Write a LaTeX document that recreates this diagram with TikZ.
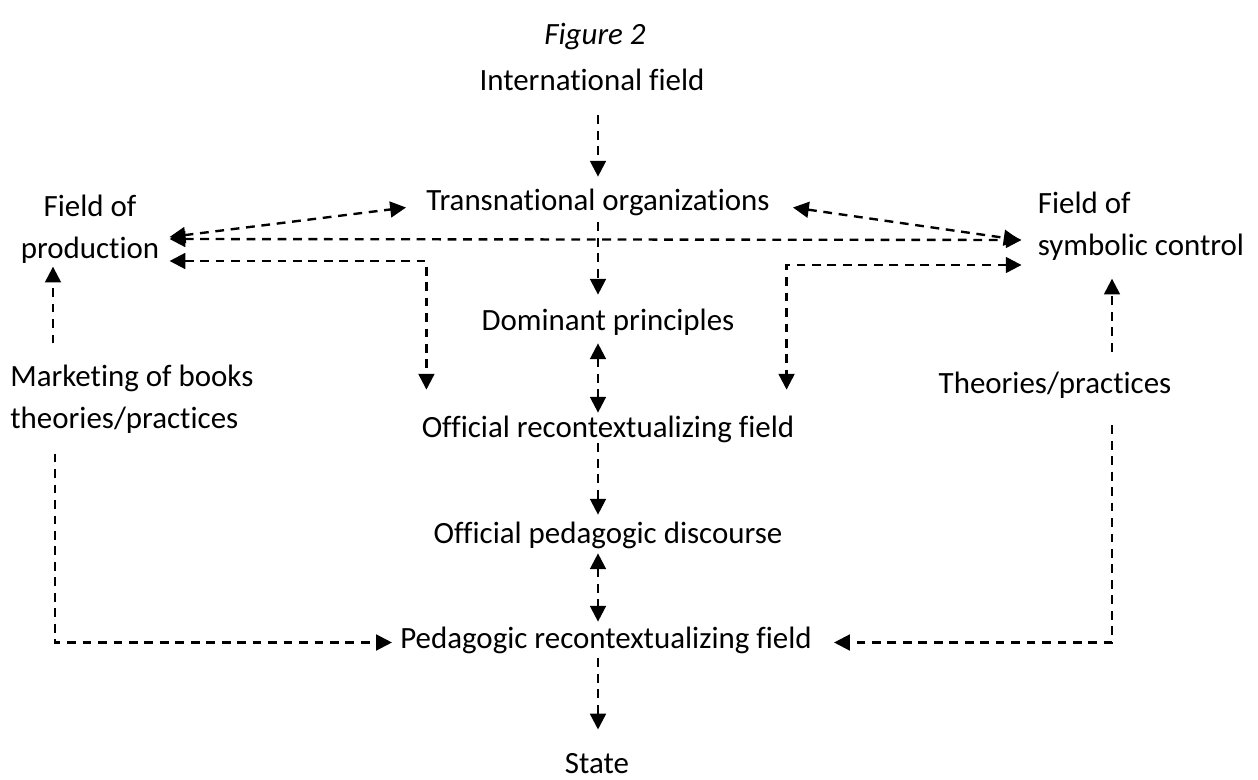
\documentclass[tikz,border=0pt]{standalone}
\usepackage{fontspec}
\setmainfont{Carlito}[Ligatures=NoCommon]
\usetikzlibrary{arrows.meta,calc}
\tikzset{
  every node/.style={inner sep=0pt, font=\fontsize{17.6}{24}\selectfont},
  lbl/.style={text height=13.6pt, text depth=2.9pt},
  flow/.style={dash pattern=on 5pt off 3.8pt, line width=1.35pt,
    -{Triangle[length=9pt,width=9pt]}},
  twoway/.style={flow, {Triangle[length=9pt,width=9pt]}-{Triangle[length=9pt,width=9pt]}},
}

\begin{document}
\begin{tikzpicture}[x=0.02cm,y=-0.02cm]
  \useasboundingbox (0,0) rectangle (1258,780);

  % labels
  \node[lbl] (fig) at (595,35) {\itshape Figure 2};
  \node[lbl] (intl) at (592,81.5) {International field};
  \node[lbl] (trans) at (598,201.5) {Transnational organizations};
  \node[align=center] (prod) at (90,229) {Field of\\production};
  \node[align=left] (symb) at (1141,226) {Field of\\symbolic control};
  \node[lbl] (dom) at (608,321.5) {Dominant principles};
  \node[align=left, anchor=west] (mark) at (10,399) {Marketing of books\\theories/practices};
  \node[lbl] (theo) at (1055,384.5) {Theories/practices};
  \node[lbl] (ofrec) at (608,428.5) {Official recontextualizing field};
  \node[lbl] (opd) at (608,534.5) {Official pedagogic discourse};
  \node[lbl] (pedrec) at (606,639.5) {Pedagogic recontextualizing field};
  \node (state) at (597,764) {State};

  % centre column
  \draw[flow] ($(trans.north |- intl.south)+(0,19)$) -- ($(trans.north)+(0,-10)$);
  \draw[flow] ($(trans.south)+(0,6)$) -- ($(trans.south |- dom.north)+(0,-12)$);
  \draw[twoway] ($(trans.south |- dom.south)+(0,7)$) -- ($(trans.south |- ofrec.north)+(0,-1)$);
  \draw[flow] (trans.south |- ofrec.south) -- ($(trans.south |- opd.north)+(0,-5)$);
  \draw[twoway] ($(trans.south |- opd.south)+(0,4)$) -- ($(trans.south |- pedrec.north)+(0,-3)$);
  \draw[flow] ($(trans.south |- pedrec.south)+(0,4)$) -- ($(trans.south |- state.north)+(0,-24)$);

  % top fields
  \draw[twoway] ($(prod.east)+(10,8)$) -- ($(trans.west)+(-20,6)$);
  \draw[twoway] ($(prod.east)+(10,10)$) -- ($(symb.west)+(-16,14)$);
  \draw[twoway] ($(trans.east)+(23,6)$) -- ($(symb.west)+(-18,14)$);
  \draw[twoway] ($(prod.east)+(10,32)$) -| ($(ofrec.north west)+(5,-24)$);
  \draw[twoway] ($(symb.west)+(-16,39)$) -| ($(ofrec.north east)+(-8,-24)$);

  % side sources
  \draw[flow] ($(mark.north west)+(43,-21)$) -- ($(prod.south)+(-37,3)$);
  \draw[flow] ($(mark.south west)+(45,20)$) |- ($(pedrec.west)+(-8,3)$);
  \draw[flow] ($(theo.north)+(57,-18)$) -- ($(symb.south)+(-29,18)$);
  \draw[flow] ($(theo.south)+(57,26)$) |- ($(pedrec.east)+(22,3)$);
\end{tikzpicture}
\end{document}
